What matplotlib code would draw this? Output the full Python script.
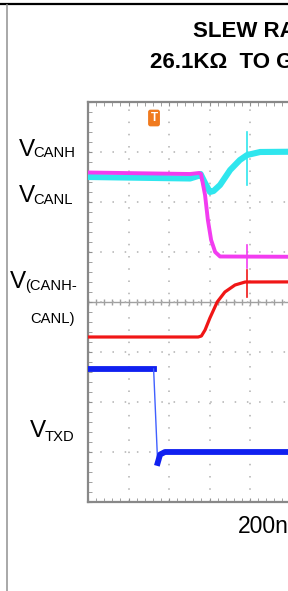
import numpy as np
import matplotlib.pyplot as plt
from matplotlib.lines import Line2D

plt.rcParams['font.family'] = ['Liberation Sans', 'DejaVu Sans']

W, H = 288, 591  # output size in px (dpi 100)

# scope traces: time in divisions from left edge, level in divisions from centre line
canh_t = [0.0, 2.52, 2.72, 2.78, 2.89, 3.01, 3.10, 3.26, 3.51, 3.75, 3.93, 4.25, 10.0]
canh_v = [2.50, 2.47, 2.52, 2.56, 2.38, 2.20, 2.22, 2.34, 2.64, 2.84, 2.94, 3.00, 3.04]

canl_t = [0.0, 2.52, 2.74, 2.79, 2.89, 2.96, 3.04, 3.14, 3.26, 10.0]
canl_v = [2.59, 2.56, 2.58, 2.56, 2.14, 1.64, 1.24, 1.00, 0.91, 0.89]

diff_t = [0.0, 2.72, 2.80, 2.89, 3.01, 3.19, 3.38, 3.63, 3.88, 10.0]
diff_v = [-0.70, -0.70, -0.68, -0.56, -0.32, 0.00, 0.20, 0.34, 0.40, 0.41]

txd_t = [0.0, 1.62, 1.72, 1.78, 1.90, 10.0]
txd_v = [-1.34, -1.34, -3.22, -3.05, -3.00, -3.00]

# ringing spikes at the same instant on the bus traces
spike_t = 3.93
spike_canh = (2.34, 3.40)
spike_canl = (0.68, 1.14)
spike_diff = (0.10, 0.64)

trig_t, trig_v = 1.63, 3.68

title_lines = ["SLEW RATE vs TIME", "26.1KΩ  TO GND"]
time_label = "200ns/DIV"

fig = plt.figure(figsize=(W / 100, H / 100), dpi=100)

def fx(x): return x / W
def fy(y): return 1 - y / H

# screen: 10 x 8 divisions, 40.5 px by 50 px, only the left part fits in the crop
ax = fig.add_axes([fx(88), fy(502), 405 / W, 400 / H])
ax.set_xlim(0, 10)
ax.set_ylim(-4, 4)
ax.set_xticks(np.arange(0, 11, 1))
ax.set_yticks(np.arange(-4, 5, 1))
ax.set_xticks(np.arange(0, 10.01, 0.2), minor=True)
ax.set_yticks(np.arange(-4, 4.01, 0.2), minor=True)
ax.tick_params(which='both', direction='in', length=3, color='#909090',
               top=True, right=True, labelbottom=False, labelleft=False)
ax.grid(True, which='major', color='#b0b0b0', lw=1.1, linestyle=(0, (1, 7)))
for s in ax.spines.values():
    s.set_color('#888888')
    s.set_linewidth(1.6)

# centre graticule with cross ticks
ax.axhline(0, color='#a0a0a0', lw=1.0, zorder=1)
ax.axvline(5, color='#a0a0a0', lw=1.0, zorder=1)
mt = np.arange(0, 10.01, 0.2)
ax.plot(mt, np.zeros_like(mt), ls='none', marker='|', ms=5, mew=1, color='#a0a0a0', zorder=1)

# traces
ax.plot(canh_t, canh_v, color='#2fe6ee', lw=4.4, solid_joinstyle='round', zorder=3)
ax.plot(canl_t, canl_v, color='#f23cf0', lw=2.8, solid_joinstyle='round', zorder=4)
ax.plot(diff_t, diff_v, color='#f01616', lw=2.3, solid_joinstyle='round', zorder=4)
ax.plot(txd_t[:2], txd_v[:2], color='#1020f0', lw=4.2, zorder=4)
ax.plot(txd_t[1:3], txd_v[1:3], color='#4060ff', lw=1.0, zorder=4)
ax.plot(txd_t[2:], txd_v[2:], color='#1020f0', lw=4.2, solid_joinstyle='round', zorder=4)

ax.plot([spike_t, spike_t], spike_canh, color='#2fe6ee', lw=1.2, zorder=3)
ax.plot([spike_t, spike_t], spike_canl, color='#f23cf0', lw=1.2, zorder=4)
ax.plot([spike_t, spike_t], spike_diff, color='#f01616', lw=1.2, zorder=4)

# trigger marker
ax.text(trig_t, trig_v, 'T', color='white', fontsize=8.5, fontweight='bold',
        ha='center', va='center', zorder=6,
        bbox=dict(boxstyle='round,pad=0.2', fc='#f07a1e', ec='none'))

# channel labels
big, small = 17.5, 10.6
def vlabel(xv, yb, sub, xs, ys):
    fig.text(fx(xv), fy(yb), 'V', fontsize=big, va='baseline', ha='left')
    fig.text(fx(xs), fy(ys), sub, fontsize=small, va='baseline', ha='left')

vlabel(19, 156, 'CANH', 33, 157)
vlabel(19, 202, 'CANL', 33, 204)
vlabel(10, 288, '(CANH-', 25, 290)
fig.text(fx(30), fy(323), 'CANL)', fontsize=small, va='baseline', ha='left')
vlabel(30, 437, 'TXD', 45, 441)

# title and time base
fig.text(fx(193), fy(37), title_lines[0], fontsize=16, fontweight='bold', va='baseline')
fig.text(fx(150), fy(68), title_lines[1], fontsize=16, fontweight='bold', va='baseline')
fig.text(fx(238), fy(533), time_label, fontsize=16.5, va='baseline')

# page frame bits
fig.add_artist(Line2D([0, 1], [fy(4)] * 2, color='black', lw=1.6))
fig.add_artist(Line2D([fx(6.5)] * 2, [0, fy(5)], color='#999999', lw=1.2))

fig.savefig('out.png', dpi=100)
